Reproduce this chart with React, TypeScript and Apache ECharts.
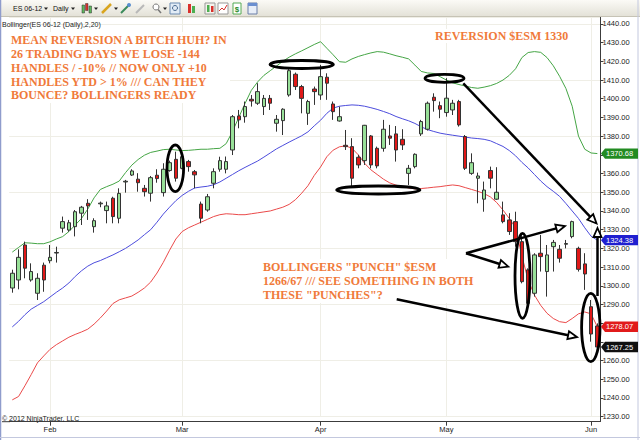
import React, { useEffect, useRef } from "react";
import * as echarts from "echarts";

// ---------- DATA ----------
const dates = [
  "2012-01-24","2012-01-25","2012-01-26","2012-01-27","2012-01-30","2012-01-31",
  "2012-02-01","2012-02-02","2012-02-03","2012-02-06","2012-02-07","2012-02-08","2012-02-09","2012-02-10",
  "2012-02-13","2012-02-14","2012-02-15","2012-02-16","2012-02-17","2012-02-20","2012-02-21","2012-02-22",
  "2012-02-23","2012-02-24","2012-02-27","2012-02-28","2012-02-29",
  "2012-03-01","2012-03-02","2012-03-05","2012-03-06","2012-03-07","2012-03-08","2012-03-09","2012-03-12",
  "2012-03-13","2012-03-14","2012-03-15","2012-03-16","2012-03-19","2012-03-20","2012-03-21","2012-03-22",
  "2012-03-23","2012-03-26","2012-03-27","2012-03-28","2012-03-29","2012-03-30",
  "2012-04-02","2012-04-03","2012-04-04","2012-04-05","2012-04-09","2012-04-10","2012-04-11","2012-04-12",
  "2012-04-13","2012-04-16","2012-04-17","2012-04-18","2012-04-19","2012-04-20","2012-04-23","2012-04-24",
  "2012-04-25","2012-04-26","2012-04-27","2012-04-30",
  "2012-05-01","2012-05-02","2012-05-03","2012-05-04","2012-05-07","2012-05-08","2012-05-09","2012-05-10",
  "2012-05-11","2012-05-14","2012-05-15","2012-05-16","2012-05-17","2012-05-18","2012-05-21","2012-05-22",
  "2012-05-23","2012-05-24","2012-05-25","2012-05-28","2012-05-29","2012-05-30","2012-05-31",
  "2012-06-01","2012-06-04"
];

const monthTicks: Record<string, string> = {
  "2012-02-01": "Feb", "2012-03-01": "Mar", "2012-04-02": "Apr", "2012-05-01": "May", "2012-06-01": "Jun"
};

const opens = [
  1298.8,1303.1,1321.8,1303.1,1296.0,1311.0,1313.4,1317.5,1330.8,1329.8,
  1331.6,1338.8,1344.1,1331.6,1343.8,1340.2,1346.8,1336.1,1355.5,1359.2,
  1357.0,1352.1,1349.5,1359.1,1349.8,1361.6,1367.6,1362.8,1366.4,1361.0,
  1343.7,1340.5,1354.8,1362.3,1362.3,1372.6,1390.8,1390.4,1399.7,1397.6,
  1395.8,1400.2,1386.9,1388.3,1402.0,1413.1,1406.5,1392.2,1405.2,1402.0,
  1411.5,1397.2,1388.1,1375.1,1374.4,1368.7,1366.9,1380.1,1373.5,1373.5,
  1380.1,1381.2,1378.3,1360.1,1363.7,1381.2,1383.7,1400.8,1396.3,1392.6,
  1394.0,1398.5,1379.8,1360.1,1357.5,1346.3,1361.6,1346.3,1337.9,1335.2,
  1334.3,1323.6,1308.5,1296.0,1317.4,1307.6,1320.9,1319.5,1322.2,1326.3,
  1320.0,1311.7,1288.8,1278.5
];
const highs = [
  1308.6,1319.5,1323.6,1312.0,1306.7,1312.4,1321.8,1320.9,1337.0,1335.2,
  1340.5,1342.7,1346.3,1336.1,1345.0,1345.0,1347.6,1352.1,1356.6,1362.3,
  1360.2,1353.9,1358.7,1362.3,1365.5,1366.9,1371.7,1370.0,1367.3,1361.9,
  1345.0,1349.1,1362.8,1369.0,1369.1,1391.3,1394.0,1398.5,1402.0,1408.3,
  1402.0,1402.0,1391.3,1394.9,1415.8,1414.0,1407.4,1399.4,1406.5,1418.1,
  1413.6,1398.5,1395.8,1383.3,1378.9,1370.0,1386.0,1380.6,1374.4,1388.7,
  1386.0,1385.4,1383.7,1364.6,1370.8,1388.7,1398.5,1402.9,1398.5,1411.0,
  1399.4,1399.4,1380.6,1370.8,1360.5,1355.7,1363.7,1363.4,1345.0,1338.8,
  1339.6,1327.2,1309.3,1317.4,1327.2,1321.8,1324.5,1321.8,1324.5,1334.8,
  1320.9,1317.4,1292.4,1279.9
];
const lows = [
  1296.3,1298.1,1304.0,1302.2,1292.4,1296.8,1312.0,1312.4,1328.4,1328.9,
  1326.4,1332.5,1335.2,1328.4,1342.0,1333.4,1333.4,1333.4,1349.8,1358.7,
  1350.3,1347.7,1345.0,1355.1,1347.7,1361.0,1355.7,1362.3,1361.0,1352.1,
  1333.4,1339.6,1352.1,1361.0,1360.1,1369.9,1384.2,1387.2,1395.8,1396.7,
  1391.3,1394.0,1382.4,1380.6,1401.1,1404.7,1392.2,1386.0,1396.7,1399.4,
  1399.4,1388.7,1387.8,1372.6,1353.0,1362.8,1364.6,1362.8,1362.8,1371.7,
  1375.3,1366.4,1372.6,1353.9,1362.8,1380.1,1383.0,1393.1,1389.6,1390.4,
  1391.3,1385.1,1361.9,1359.3,1344.1,1339.6,1352.1,1345.9,1333.4,1327.2,
  1320.9,1301.3,1289.7,1294.2,1307.6,1294.2,1307.6,1312.4,1320.0,1325.4,
  1307.6,1297.8,1270.1,1265.7
];
const closes = [
  1306.7,1315.2,1309.4,1307.6,1304.0,1303.1,1315.2,1317.8,1334.3,1333.7,
  1339.6,1342.0,1342.7,1334.8,1344.2,1342.7,1337.0,1349.4,1355.9,1361.4,
  1355.1,1350.3,1357.8,1357.3,1362.3,1365.8,1357.5,1369.0,1363.7,1359.3,
  1336.1,1347.6,1361.0,1366.9,1366.4,1390.4,1388.7,1395.8,1398.8,1403.8,
  1400.2,1397.6,1389.0,1394.4,1415.0,1406.5,1400.2,1398.5,1403.8,1411.8,
  1408.3,1393.1,1390.4,1374.4,1357.5,1364.6,1385.8,1364.6,1364.1,1383.7,
  1378.9,1372.6,1375.3,1362.8,1370.3,1387.8,1397.6,1399.0,1394.4,1400.3,
  1397.6,1386.0,1362.8,1365.8,1358.7,1351.2,1357.5,1350.0,1334.3,1329.0,
  1323.6,1302.2,1290.6,1316.5,1315.6,1316.5,1323.2,1314.7,1322.6,1334.3,
  1308.8,1306.3,1274.2,1267.25
];

const upperBand = [
  1318,1320.5,1323,1322.8,1322.5,1322.5,1323.5,1325,1326.3,1329,
  1332.5,1336,1341,1347,1351.5,1353,1354.3,1356,1360.5,1364.5,
  1367.5,1369.8,1371.3,1372,1372.8,1373,1372.6,1372.3,1372.4,1372.7,
  1373,1373,1373.3,1373.5,1376,1382.5,1390,1397.5,1404.5,1409,
  1412.5,1415,1417.5,1420,1422.2,1424,1425.6,1427.3,1429,1430.5,
  1427,1423.5,1419.8,1419.5,1421.3,1422.6,1423.6,1424.5,1425.2,1424.9,
  1424,1423,1422.2,1421.3,1418,1414.6,1413.8,1413.5,1411.8,1410,
  1408.5,1407.6,1406.8,1406,1405.6,1406.2,1407,1408.2,1410,1412.5,
  1416,1422,1424.7,1425.2,1424.8,1422,1417.6,1412,1405.5,1396,
  1380,1373,1371,1370.68
];
const middleBand = [
  1278,1281,1284.5,1287.5,1289.5,1291.5,1294,1296.5,1298.8,1301.5,
  1305,1308,1310.5,1312.3,1313.5,1315,1316.5,1318.2,1320,1322.2,
  1324.5,1327.3,1330,1334,1338.3,1342,1345.5,1348.3,1350.5,1352.3,
  1352.8,1353.2,1354,1355.5,1357.5,1359.5,1361.5,1363.3,1365,1366.7,
  1368.8,1371,1373.2,1375,1376.8,1378.5,1380.2,1382.3,1385.5,1388.5,
  1392.2,1395,1396,1396.4,1396.7,1396.5,1396,1395.2,1394.3,1393.2,
  1392,1390.5,1389.3,1388.2,1386.8,1385,1383.5,1382.5,1381.6,1381,
  1380.5,1380,1379.5,1379,1378.7,1378.3,1377.5,1376,1374.5,1372.3,
  1369.5,1366,1363,1359.5,1356,1353,1350.5,1347.8,1344,1340,
  1336,1331,1326.5,1324.38
];
const lowerBand = [
  1239,1240.8,1246.5,1252.5,1258.8,1262.5,1266,1268.5,1270.5,1272.5,
  1274,1275.3,1276.8,1279.5,1282.8,1286.5,1290.5,1292.5,1293.5,1294.5,
  1296.5,1298.8,1302,1306.8,1312.5,1319,1325,1329,1331,1332.5,
  1334,1335.5,1337,1338,1338.5,1338.3,1338,1338,1338.5,1339,
  1339.5,1340,1341,1342,1343.5,1346,1349.5,1353.5,1359,1363.5,
  1369,1372.5,1374.3,1374.8,1373.5,1370,1365.5,1362,1359.5,1357,
  1355,1353.8,1353,1352.3,1351.8,1352,1352.3,1352.7,1353,1353.5,
  1353.9,1353.5,1352.5,1351.5,1350.5,1349.3,1347.5,1344.5,1340.5,1336,
  1331,1316,1303,1295,1289.5,1285.3,1282.5,1280.8,1280.3,1282.5,
  1285,1286,1285,1278.07
];

const noteTop = [
  "MEAN REVERSION A BITCH HUH? IN",
  "26 TRADING DAYS WE LOSE -144",
  "HANDLES / -10% // NOW ONLY +10",
  "HANDLES YTD > 1% /// CAN THEY",
  "BOUNCE? BOLLINGERS READY"
];
const noteRight = "REVERSION $ESM 1330";
const noteBottom = [
  'BOLLINGERS "PUNCH" $ESM',
  "1266/67 /// SEE SOMETHING IN BOTH",
  'THESE "PUNCHES"?'
];

// ---------- ANNOTATION LAYOUT (pixels) ----------
const ellipses = [
  { cx: 175.3, cy: 168.3, rx: 8.3, ry: 23.3 },
  { cx: 301.7, cy: 64.5, rx: 31.7, ry: 4 },
  { cx: 378.3, cy: 190, rx: 41.7, ry: 4 },
  { cx: 444.5, cy: 78.3, rx: 19.5, ry: 4 },
  { cx: 522.5, cy: 275.8, rx: 7.5, ry: 42.5 },
  { cx: 590.8, cy: 327.5, rx: 9.2, ry: 34.2 }
];
const arrows = [
  { from: [463.3, 83.3], to: [596.5, 223.5] },
  { from: [597.5, 296], to: [597.5, 228] },
  { from: [466, 253.3], to: [565, 226] },
  { from: [466, 253.3], to: [508.3, 266.7] },
  { from: [396.7, 299.3], to: [577, 337] }
];

const ORANGE = "#f07a3a";
const SERIF = 'bold 12px "Liberation Serif", "Times New Roman", serif';
const SMALL = '"Liberation Sans", Arial, sans-serif';

function arrowEls(x1: number, y1: number, x2: number, y2: number) {
  const dx = x2 - x1, dy = y2 - y1;
  const len = Math.hypot(dx, dy);
  const ux = dx / len, uy = dy / len;
  const L = 9, W = 4;
  const bx = x2 - ux * L, by = y2 - uy * L;
  const nx = -uy, ny = ux;
  return [
    { type: "line", z: 60, silent: true, shape: { x1, y1, x2: bx, y2: by }, style: { stroke: "#000", lineWidth: 2.5 } },
    {
      type: "polygon", z: 61, silent: true,
      shape: { points: [[x2, y2], [bx + nx * W, by + ny * W], [bx - nx * W, by - ny * W]] },
      style: { fill: "#fff", stroke: "#000", lineWidth: 1.8 }
    }
  ];
}

function tri(x: number, y: number) {
  return { type: "polygon", z: 31, silent: true, shape: { points: [[x, y], [x + 4, y], [x + 2, y + 2.5]] }, style: { fill: "#222" } };
}

export default function App() {
  const ref = useRef<HTMLDivElement>(null);
  useEffect(() => {
    const chart = echarts.init(ref.current!, null, { renderer: "svg", width: 640, height: 440 });
    const ohlc = opens.map((o, i) => [o, closes[i], lows[i], highs[i]]);
    const isTick = (_i: number, v: string) => !!monthTicks[v];

    const option: any = {
      animation: false,
      backgroundColor: "#ffffff",
      grid: { left: 9.15, right: 39.5, top: 17, bottom: 23.3, containLabel: false },
      xAxis: {
        type: "category",
        data: dates,
        boundaryGap: true,
        offset: 5,
        axisLine: { show: true, lineStyle: { color: "#3c3c3c", width: 1 } },
        axisTick: { show: true, alignWithLabel: true, interval: isTick, length: 4, lineStyle: { color: "#3c3c3c" } },
        axisLabel: {
          interval: isTick,
          formatter: (v: string) => monthTicks[v] || "",
          fontSize: 7.5, color: "#222", margin: 4, fontFamily: SMALL
        },
        splitLine: { show: false }
      },
      yAxis: [
        {
          type: "value", position: "right", min: 1230, max: 1443.7, interval: 10,
          axisLine: { show: true, lineStyle: { color: "#3c3c3c", width: 1 } },
          axisTick: { show: true, length: 3, lineStyle: { color: "#3c3c3c" } },
          axisLabel: {
            formatter: (v: number) => v.toFixed(2), fontSize: 7.5, color: "#222",
            margin: 2, showMaxLabel: false, fontFamily: SMALL
          },
          splitLine: { show: false }
        },
        {
          type: "value", position: "right", min: 1230, max: 1443.7, interval: 30,
          axisLine: { show: false }, axisTick: { show: false }, axisLabel: { show: false },
          splitLine: { show: true, lineStyle: { color: "#efeee6", width: 1 } }
        }
      ],
      series: [
        {
          type: "line", name: "upper", data: upperBand, symbol: "none", z: 2, silent: true,
          lineStyle: { color: "#45a545", width: 1 },
          markLine: {
            silent: true, symbol: ["none", "none"], z: 0, animation: false,
            label: { show: false },
            lineStyle: { color: "#efeee6", type: "solid", width: 1 },
            data: Object.keys(monthTicks).map((d) => ({ xAxis: d }))
          }
        },
        { type: "line", name: "middle", data: middleBand, symbol: "none", z: 2, silent: true, lineStyle: { color: "#4c4cdc", width: 1 } },
        { type: "line", name: "lower", data: lowerBand, symbol: "none", z: 2, silent: true, lineStyle: { color: "#ea4a4a", width: 1 } },
        {
          type: "candlestick", name: "ES 06-12", data: ohlc, z: 3, barWidth: 4,
          itemStyle: { color: "#98e098", color0: "#e01818", borderColor: "#333", borderColor0: "#333", borderWidth: 1 }
        }
      ]
    };
    chart.setOption(option);

    const yPix = (v: number) => chart.convertToPixel({ yAxisIndex: 0 }, v) as unknown as number;
    const last = closes.length - 1;
    const tags = [
      { value: upperBand[last], bg: "#228b22" },
      { value: middleBand[last], bg: "#1f1fd0" },
      { value: lowerBand[last], bg: "#e11b1b" },
      { value: closes[last], bg: "#101010" }
    ].map((t) => ({ ...t, y: yPix(t.value) }));
    tags.sort((a, b) => a.y - b.y);
    for (let i = 1; i < tags.length; i++) {
      if (tags[i].y - tags[i - 1].y < 11) tags[i].y = tags[i - 1].y + 11;
    }
    const axisBottom = yPix(1230) + 5;
    // tick labels that sit under a value tag are covered, as in the reference
    const covered = (v: number) => tags.some((t) => Math.abs(yPix(v) - t.y) < 8);

    const g: any[] = [];
    // toolbar
    g.push({
      type: "rect", z: 30, silent: true, shape: { x: 0, y: 0, width: 640, height: 16.5 },
      style: { fill: { type: "linear", x: 0, y: 0, x2: 0, y2: 1, colorStops: [{ offset: 0, color: "#fbfaf6" }, { offset: 1, color: "#e3e1d7" }] } }
    });
    g.push({ type: "line", z: 31, silent: true, shape: { x1: 0, y1: 16.5, x2: 640, y2: 16.5 }, style: { stroke: "#c6c3b5", lineWidth: 1 } });
    g.push({ type: "text", z: 31, silent: true, style: { text: "ES 06-12", x: 13, y: 8.5, verticalAlign: "middle", font: `7px ${SMALL}`, fill: "#111" } });
    g.push(tri(44, 7.5));
    g.push({ type: "text", z: 31, silent: true, style: { text: "Daily", x: 53, y: 8.5, verticalAlign: "middle", font: `7px ${SMALL}`, fill: "#111" } });
    g.push(tri(71, 7.5));
    // icons
    g.push({ type: "rect", z: 31, silent: true, shape: { x: 82, y: 5, width: 2.5, height: 8 }, style: { fill: "#5cb85c", stroke: "#333", lineWidth: 0.5 } });
    g.push({ type: "rect", z: 31, silent: true, shape: { x: 85.5, y: 3.5, width: 2.5, height: 7 }, style: { fill: "#d9302c", stroke: "#333", lineWidth: 0.5 } });
    g.push({ type: "rect", z: 31, silent: true, shape: { x: 89, y: 6, width: 2.5, height: 7 }, style: { fill: "#5cb85c", stroke: "#333", lineWidth: 0.5 } });
    g.push(tri(94, 7.5));
    g.push({ type: "line", z: 31, silent: true, shape: { x1: 102, y1: 13, x2: 111, y2: 4 }, style: { stroke: "#d9a520", lineWidth: 2.5 } });
    g.push(tri(114, 7.5));
    g.push({ type: "line", z: 31, silent: true, shape: { x1: 121, y1: 13, x2: 129, y2: 5 }, style: { stroke: "#3a8a5a", lineWidth: 2 } });
    g.push({ type: "circle", z: 31, silent: true, shape: { cx: 129, cy: 5, r: 2 }, style: { fill: "#5a8fd0" } });
    g.push({ type: "line", z: 31, silent: true, shape: { x1: 136, y1: 13, x2: 144, y2: 5 }, style: { stroke: "#b8b8b8", lineWidth: 2 } });
    g.push({ type: "circle", z: 31, silent: true, shape: { cx: 156, cy: 7, r: 3 }, style: { fill: "#fff", stroke: "#777", lineWidth: 1 } });
    g.push({ type: "line", z: 31, silent: true, shape: { x1: 158, y1: 9.5, x2: 161, y2: 13 }, style: { stroke: "#777", lineWidth: 1.5 } });
    g.push(tri(163, 7.5));
    g.push({ type: "rect", z: 31, silent: true, shape: { x: 170, y: 3, width: 10, height: 11 }, style: { fill: "#e2ecf6", stroke: "#6a8ab0", lineWidth: 1 } });
    g.push({ type: "circle", z: 32, silent: true, shape: { cx: 175, cy: 8, r: 2.5 }, style: { fill: "none", stroke: "#4a6a90", lineWidth: 1 } });
    g.push({ type: "rect", z: 31, silent: true, shape: { x: 188, y: 4, width: 3, height: 9 }, style: { fill: "#d9302c" } });
    g.push({ type: "rect", z: 31, silent: true, shape: { x: 192, y: 6, width: 3, height: 7 }, style: { fill: "#4caf50" } });
    g.push({ type: "rect", z: 31, silent: true, shape: { x: 205, y: 3, width: 10, height: 11 }, style: { fill: "#f4f3ec", stroke: "#999", lineWidth: 1 } });
    g.push({ type: "rect", z: 32, silent: true, shape: { x: 207, y: 5, width: 2.5, height: 7 }, style: { fill: "#4caf50" } });
    g.push({ type: "rect", z: 32, silent: true, shape: { x: 211, y: 6, width: 2.5, height: 6 }, style: { fill: "#d9302c" } });
    g.push({ type: "rect", z: 31, silent: true, shape: { x: 218, y: 3, width: 10, height: 11 }, style: { fill: "#fff", stroke: "#999", lineWidth: 1 } });
    g.push({ type: "polyline", z: 32, silent: true, shape: { points: [[219, 11], [222, 8], [224, 10], [227, 5]] }, style: { stroke: "#d9302c", lineWidth: 1, fill: "none" } });
    g.push({ type: "rect", z: 31, silent: true, shape: { x: 233, y: 3, width: 8, height: 11 }, style: { fill: "#fff", stroke: "#5a5", lineWidth: 1 } });
    g.push({ type: "text", z: 32, silent: true, style: { text: "$", x: 237, y: 9, align: "center", verticalAlign: "middle", font: `bold 8px ${SMALL}`, fill: "#2a8a2a" } });
    g.push({ type: "rect", z: 31, silent: true, shape: { x: 248, y: 3, width: 9, height: 11 }, style: { fill: "#e8eef8", stroke: "#6b7fa8", lineWidth: 1 } });
    g.push({ type: "rect", z: 32, silent: true, shape: { x: 248, y: 3, width: 9, height: 3 }, style: { fill: "#6b8fd0" } });

    // frame
    g.push({ type: "line", z: 40, silent: true, shape: { x1: 0.5, y1: 0, x2: 0.5, y2: 440 }, style: { stroke: "#8f9ccc", lineWidth: 1.5 } });
    g.push({ type: "line", z: 40, silent: true, shape: { x1: 638, y1: 0, x2: 638, y2: 440 }, style: { stroke: "#c3c8de", lineWidth: 1 } });
    g.push({ type: "line", z: 40, silent: true, shape: { x1: 0, y1: 437.5, x2: 640, y2: 437.5 }, style: { stroke: "#c3c8de", lineWidth: 1 } });

    // axis extensions
    g.push({ type: "line", z: 5, silent: true, shape: { x1: 2, y1: axisBottom, x2: 10, y2: axisBottom }, style: { stroke: "#3c3c3c", lineWidth: 1 } });
    g.push({ type: "line", z: 5, silent: true, shape: { x1: 600.5, y1: axisBottom - 5.5, x2: 600.5, y2: axisBottom }, style: { stroke: "#3c3c3c", lineWidth: 1 } });

    // small texts
    g.push({ type: "text", z: 20, silent: true, style: { text: "Bollinger(ES 06-12 (Daily),2,20)", x: 2, y: 24, verticalAlign: "middle", font: `7px ${SMALL}`, fill: "#222" } });
    g.push({ type: "text", z: 20, silent: true, style: { text: "\u00a9 2012 NinjaTrader, LLC", x: 2, y: 418, verticalAlign: "middle", font: `7px ${SMALL}`, fill: "#222" } });

    // orange notes
    g.push({ type: "rect", z: 19, silent: true, shape: { x: 8, y: 32, width: 222, height: 71 }, style: { fill: "#fff" } });
    noteTop.forEach((t, i) => g.push({ type: "text", z: 20, silent: true, style: { text: t, x: 11, y: 40 + i * 13.85, verticalAlign: "middle", font: SERIF, fill: ORANGE } }));
    g.push({ type: "rect", z: 19, silent: true, shape: { x: 432, y: 29, width: 141, height: 14 }, style: { fill: "#fff" } });
    g.push({ type: "text", z: 20, silent: true, style: { text: noteRight, x: 435, y: 36, verticalAlign: "middle", font: SERIF, fill: ORANGE } });
    g.push({ type: "rect", z: 19, silent: true, shape: { x: 260, y: 259, width: 218, height: 44 }, style: { fill: "#fff" } });
    noteBottom.forEach((t, i) => g.push({ type: "text", z: 20, silent: true, style: { text: t, x: 263, y: 267 + i * 14.2, verticalAlign: "middle", font: SERIF, fill: ORANGE } }));

    // ellipses and arrows
    ellipses.forEach((e) => g.push({ type: "ellipse", z: 55, silent: true, shape: e, style: { fill: "transparent", stroke: "#000", lineWidth: 2.8 } }));
    arrows.forEach((a) => arrowEls(a.from[0], a.from[1], a.to[0], a.to[1]).forEach((el) => g.push(el)));

    // last value tags on the price axis
    tags.forEach((t) => {
      const y = t.y;
      g.push({
        type: "polygon", z: 70, silent: true,
        shape: { points: [[601, y], [605, y - 5.2], [638, y - 5.2], [638, y + 5.2], [605, y + 5.2]] },
        style: { fill: t.bg }
      });
      g.push({ type: "text", z: 71, silent: true, style: { text: t.value.toFixed(2), x: 606, y, verticalAlign: "middle", font: `7.5px ${SMALL}`, fill: "#fff" } });
    });

    chart.setOption({
      yAxis: [
        { axisLabel: { formatter: (v: number) => (covered(v) ? "" : v.toFixed(2)) } },
        {}
      ],
      graphic: g
    });
    return () => chart.dispose();
  }, []);
  return <div ref={ref} style={{ position: "fixed", left: 0, top: 0, width: 640, height: 440 }} />;
}
